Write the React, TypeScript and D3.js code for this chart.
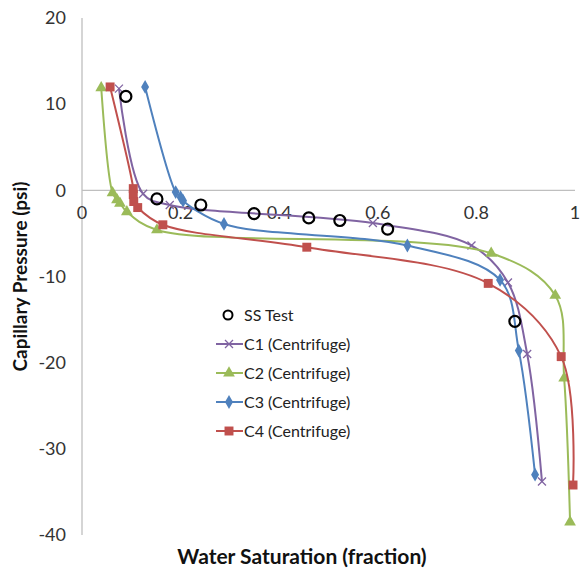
import { useEffect, useRef } from 'react';
import * as d3 from 'd3';

// SS Test (circles only)
const ssSw = [0.089, 0.152, 0.241, 0.349, 0.46, 0.523, 0.62, 0.878];
const ssPc = [10.9, -1.0, -1.7, -2.7, -3.2, -3.5, -4.5, -15.2];

// Centrifuge curves
const c1Sw = [0.075, 0.124, 0.178, 0.59, 0.79, 0.864, 0.903, 0.933];
const c1Pc = [11.8, -0.4, -1.7, -3.8, -6.4, -10.7, -19.0, -33.8];

const c2Sw = [0.039, 0.062, 0.071, 0.077, 0.091, 0.152, 0.83, 0.96, 0.978, 0.99];
const c2Pc = [11.9, -0.3, -1.1, -1.5, -2.5, -4.6, -7.3, -12.2, -21.8, -38.5];

const c3Sw = [0.128, 0.19, 0.2, 0.205, 0.288, 0.66, 0.848, 0.886, 0.919];
const c3Pc = [12.0, -0.2, -0.8, -1.2, -3.9, -6.4, -10.4, -18.6, -33.0];

const c4Sw = [0.057, 0.104, 0.104, 0.105, 0.113, 0.164, 0.456, 0.824, 0.972, 0.996];
const c4Pc = [12.0, 0.2, -0.5, -1.3, -2.0, -4.0, -6.6, -10.8, -19.3, -34.2];

const xTicks = [0, 0.2, 0.4, 0.6, 0.8, 1];
const yTicks = [20, 10, 0, -10, -20, -30, -40];

const series = [
  { name: 'C1 (Centrifuge)', sw: c1Sw, pc: c1Pc, color: '#8064A2', marker: 'cross' },
  { name: 'C2 (Centrifuge)', sw: c2Sw, pc: c2Pc, color: '#9BBB59', marker: 'triangle' },
  { name: 'C3 (Centrifuge)', sw: c3Sw, pc: c3Pc, color: '#4F81BD', marker: 'diamond' },
  { name: 'C4 (Centrifuge)', sw: c4Sw, pc: c4Pc, color: '#C0504D', marker: 'square' },
];

const font = 'Lato, "Open Sans", sans-serif';

function drawMarker(g, type, x, y, color) {
  if (type === 'cross') {
    g.append('path')
      .attr('d', `M${x - 4},${y - 4}L${x + 4},${y + 4}M${x - 4},${y + 4}L${x + 4},${y - 4}`)
      .attr('stroke', color).attr('stroke-width', 1.3).attr('fill', 'none');
  } else {
    const sym = type === 'triangle' ? d3.symbolTriangle : type === 'diamond' ? d3.symbolDiamond : d3.symbolSquare;
    const size = type === 'square' ? 80 : type === 'triangle' ? 60 : 55;
    g.append('path')
      .attr('d', d3.symbol().type(sym).size(size)())
      .attr('transform', `translate(${x},${y})`)
      .attr('fill', color);
  }
}

const App = () => {
  const svgRef = useRef(null);

  useEffect(() => {
    const svg = d3.select(svgRef.current);
    svg.selectAll('*').remove();

    const x = d3.scaleLinear().domain([0, 1]).range([82, 575]);
    const y = d3.scaleLinear().domain([-40, 20]).range([535, 18]);

    // axes lines
    svg.append('line')
      .attr('x1', x(0)).attr('x2', x(0)).attr('y1', y(20)).attr('y2', y(-40))
      .attr('stroke', '#bfbfbf').attr('stroke-width', 1.3);
    svg.append('line')
      .attr('x1', x(0)).attr('x2', x(1)).attr('y1', y(0)).attr('y2', y(0))
      .attr('stroke', '#bfbfbf').attr('stroke-width', 1.3);

    // tick labels
    svg.append('g').selectAll('text').data(yTicks).enter().append('text')
      .attr('x', 66).attr('y', d => y(d)).attr('dy', '0.35em')
      .attr('text-anchor', 'end')
      .style('font-family', font).style('font-size', '18px').attr('fill', '#333')
      .text(d => d);

    svg.append('g').selectAll('text').data(xTicks).enter().append('text')
      .attr('x', d => x(d)).attr('y', y(0) + 29)
      .attr('text-anchor', 'middle')
      .style('font-family', font).style('font-size', '18px').attr('fill', '#333')
      .text(d => d);

    // axis titles
    svg.append('text')
      .attr('transform', `translate(27,${y(-10)}) rotate(-90)`)
      .attr('text-anchor', 'middle')
      .style('font-family', font).style('font-size', '19px').style('font-weight', 'bold')
      .attr('fill', '#111')
      .text('Capillary Pressure (psi)');

    svg.append('text')
      .attr('x', 302).attr('y', 564)
      .attr('text-anchor', 'middle')
      .style('font-family', font).style('font-size', '21px').style('font-weight', 'bold')
      .attr('fill', '#111')
      .text('Water Saturation (fraction)');

    // curves
    const line = d3.line().x(d => x(d[0])).y(d => y(d[1])).curve(d3.curveCatmullRom.alpha(0.5));
    series.forEach(s => {
      const pts = s.sw.map((v, i) => [v, s.pc[i]]);
      svg.append('path').attr('d', line(pts))
        .attr('fill', 'none').attr('stroke', s.color).attr('stroke-width', 2);
      const g = svg.append('g');
      pts.forEach(p => drawMarker(g, s.marker, x(p[0]), y(p[1]), s.color));
    });

    // SS test circles
    svg.append('g').selectAll('circle').data(ssSw).enter().append('circle')
      .attr('cx', d => x(d)).attr('cy', (d, i) => y(ssPc[i])).attr('r', 5.5)
      .attr('fill', 'none').attr('stroke', '#000').attr('stroke-width', 2.2);

    // legend
    const lg = svg.append('g');
    lg.append('circle').attr('cx', 228).attr('cy', 315).attr('r', 4.5)
      .attr('fill', 'none').attr('stroke', '#000').attr('stroke-width', 2);
    lg.append('text').attr('x', 244).attr('y', 315).attr('dy', '0.35em')
      .style('font-family', font).style('font-size', '16px').attr('fill', '#222')
      .text('SS Test');
    series.forEach((s, i) => {
      const ly = 344 + i * 29;
      lg.append('line').attr('x1', 216).attr('x2', 243).attr('y1', ly).attr('y2', ly)
        .attr('stroke', s.color).attr('stroke-width', 2);
      drawMarker(lg, s.marker, 229, ly, s.color);
      lg.append('text').attr('x', 244).attr('y', ly).attr('dy', '0.35em')
        .style('font-family', font).style('font-size', '16px').attr('fill', '#222')
        .text(s.name);
    });
  }, []);

  return <svg ref={svgRef} width={582} height={571} style={{ display: 'block', position: 'absolute', left: 0, top: 0 }} />;
};

export default App;
